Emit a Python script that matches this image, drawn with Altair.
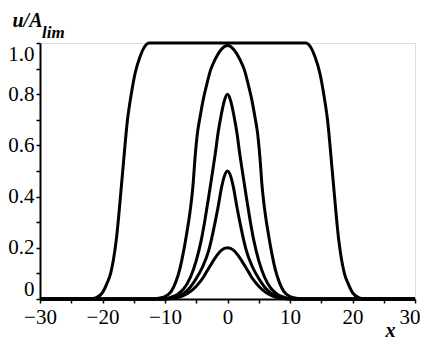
import altair as alt
import pandas as pd

# Curve A: wide plateau profile
x_a = [-30, -22, -21, -20, -19.3, -18.7, -17.8, -16.8, -16, -15.4, -14.8, -14, -13.4, -12.5,
       12.5, 13.4, 14, 14.8, 15.4, 16, 16.8, 17.8, 18.7, 19.3, 20, 21, 22, 30]
u_a = [0, 0, 0.005, 0.025, 0.06, 0.1, 0.23, 0.49, 0.7, 0.8, 0.88, 0.946, 0.98, 1.0,
       1.0, 0.98, 0.946, 0.88, 0.8, 0.7, 0.49, 0.23, 0.1, 0.06, 0.025, 0.005, 0, 0]

# Curve B: peak ~1.0
x_b = [-30, -12, -11, -10, -9, -8.3, -7.6, -7, -6.5, -6, -5.5, -5.2, -4.8, -4.4, -3.9, -3.3, -2.7, -2, -1, 0,
       1, 2, 2.7, 3.3, 3.9, 4.4, 4.8, 5.2, 5.5, 6, 6.5, 7, 7.6, 8.3, 9, 10, 11, 12, 30]
u_b = [0, 0, 0.003, 0.01, 0.03, 0.065, 0.12, 0.19, 0.26, 0.34, 0.45, 0.55, 0.65, 0.71, 0.777, 0.84, 0.895, 0.935, 0.975, 0.99,
       0.975, 0.935, 0.895, 0.84, 0.777, 0.71, 0.65, 0.55, 0.45, 0.34, 0.26, 0.19, 0.12, 0.065, 0.03, 0.01, 0.003, 0, 0]

# Curve C: peak 0.8
x_c = [-30, -11, -10, -9, -8, -7, -5.9, -5, -4.2, -3.6, -3, -2.5, -2, -1.5, -1, -0.5, 0,
       0.5, 1, 1.5, 2, 2.5, 3, 3.6, 4.2, 5, 5.9, 7, 8, 9, 10, 11, 30]
u_c = [0, 0, 0.002, 0.007, 0.018, 0.04, 0.087, 0.15, 0.23, 0.31, 0.4, 0.48, 0.56, 0.65, 0.72, 0.775, 0.8,
       0.775, 0.72, 0.65, 0.56, 0.48, 0.4, 0.31, 0.23, 0.15, 0.087, 0.04, 0.018, 0.007, 0.002, 0, 0]

# Curve D: peak 0.5
x_d = [-30, -10, -9, -8, -7, -6, -5, -4, -3, -2.5, -1.9, -1.5, -1, -0.5, 0,
       0.5, 1, 1.5, 1.9, 2.5, 3, 4, 5, 6, 7, 8, 9, 10, 30]
u_d = [0, 0, 0.004, 0.01, 0.022, 0.045, 0.08, 0.125, 0.19, 0.24, 0.31, 0.36, 0.43, 0.48, 0.5,
       0.48, 0.43, 0.36, 0.31, 0.24, 0.19, 0.125, 0.08, 0.045, 0.022, 0.01, 0.004, 0, 0]

# Curve E: peak 0.2
x_e = [-30, -10, -9, -8, -7, -6, -5, -4, -3.5, -3, -2, -1, 0,
       1, 2, 3, 3.5, 4, 5, 6, 7, 8, 9, 10, 30]
u_e = [0, 0, 0.002, 0.006, 0.014, 0.028, 0.05, 0.08, 0.1, 0.12, 0.16, 0.19, 0.2,
       0.19, 0.16, 0.12, 0.1, 0.08, 0.05, 0.028, 0.014, 0.006, 0.002, 0, 0]

x_ticks = [-30, -25, -20, -15, -10, -5, 0, 5, 10, 15, 20, 25, 30]
y_ticks = [0, 0.1, 0.2, 0.3, 0.4, 0.5, 0.6, 0.7, 0.8, 0.9, 1.0]

frames = []
for name, xs, us in [("A", x_a, u_a), ("B", x_b, u_b), ("C", x_c, u_c),
                     ("D", x_d, u_d), ("E", x_e, u_e)]:
    frames.append(pd.DataFrame({"x": xs, "u": us, "curve": name}))
df = pd.concat(frames, ignore_index=True)

FONT = "Liberation Serif, Times New Roman, serif"

lines = alt.Chart(df).mark_line(
    color="black", strokeWidth=3, interpolate="monotone"
).encode(
    x=alt.X("x:Q",
            scale=alt.Scale(domain=[-30, 30], nice=False, zero=False),
            axis=alt.Axis(values=x_ticks,
                          labelExpr="datum.value % 10 == 0 ? format(datum.value, 'd') : ''",
                          labelAlign={"condition": {"test": "datum.value == 30", "value": "right"}, "value": "center"},
                          labelOffset={"condition": {"test": "datum.value == 30", "value": 5}, "value": 0},
                          grid=False, domainColor="black", domainWidth=2,
                          tickColor="black", tickWidth=1.5, tickSize=4,
                          labelFont=FONT, labelFontSize=21, labelColor="black",
                          labelPadding=3, labelOverlap=False, labelFlush=False,
                          title="x", titleFont=FONT, titleFontSize=20,
                          titleFontStyle="italic", titleFontWeight="bold",
                          titleColor="black", titleX=345, titleY=37,
                          titleAlign="left", titleBaseline="alphabetic")),
    y=alt.Y("u:Q",
            scale=alt.Scale(domain=[0, 1], nice=False),
            axis=alt.Axis(values=y_ticks,
                          labelExpr="datum.value == 0 ? '0' : (round(datum.value * 10) % 2 == 0 ? format(datum.value, '.1f') : '')",
                          grid=False, domainColor="black", domainWidth=2,
                          tickColor="black", tickWidth=1.5, tickSize=4,
                          labelFont=FONT, labelFontSize=21, labelColor="black",
                          labelPadding=2, labelOverlap=False, labelFlush=True,
                          title="u/A", titleFont=FONT, titleFontSize=20,
                          titleFontStyle="italic", titleFontWeight="bold",
                          titleColor="black", titleAngle=0, titleX=-28, titleY=-17,
                          titleAlign="left", titleBaseline="alphabetic")),
    detail="curve:N",
)

sub = alt.Chart(pd.DataFrame({"t": ["lim"]})).mark_text(
    font=FONT, fontSize=17, fontStyle="italic", fontWeight="bold",
    align="left", baseline="alphabetic", color="black"
).encode(text="t:N", x=alt.value(2), y=alt.value(-5))

chart = alt.layer(lines, sub).properties(
    width=375, height=256,
    autosize=alt.AutoSizeParams(type="none"),
    padding={"left": 32, "top": 35, "right": 5, "bottom": 40},
).configure_view(stroke="black", strokeWidth=2).configure(background="white")

chart.save("out.html", embed_options={"renderer": "svg", "actions": False})
